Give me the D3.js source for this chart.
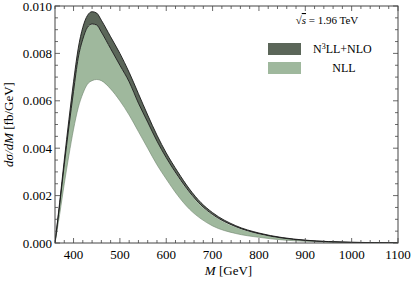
<!DOCTYPE html>
<html>
<head>
<meta charset="utf-8">
<script src="https://cdn.jsdelivr.net/npm/d3@7"></script>
<style>
  body { margin: 0; background: #fff; }
</style>
</head>
<body>
<div id="chart"></div>
<script>
// invariant mass grid (GeV)
var mass = [360, 370, 380, 390, 400, 410, 420, 430, 440, 450, 460, 480, 500, 520, 540, 560, 580, 600,
            625, 650, 675, 700, 750, 800, 850, 900, 950, 1000, 1050, 1100];
// N3LL+NLO band
var n3llHigh = [0, 0.0017, 0.0035, 0.0052, 0.0068, 0.0082, 0.0091, 0.0096, 0.00976, 0.0097, 0.0094, 0.0087, 0.0080, 0.0072, 0.0063, 0.0054, 0.00455, 0.0038,
                0.0030, 0.00228, 0.0017, 0.00128, 0.00073, 0.00042, 0.00023, 0.00012, 0.00006, 0.00003, 0.000015, 0.000007];
var n3llLow  = [0, 0.0016, 0.0033, 0.0049, 0.0064, 0.0078, 0.0086, 0.0091, 0.00924, 0.0092, 0.0089, 0.0082, 0.0075, 0.0068, 0.0059, 0.0051, 0.0043, 0.0036,
                0.00283, 0.00215, 0.0016, 0.0012, 0.00069, 0.00039, 0.00021, 0.00011, 0.000055, 0.000027, 0.000013, 0.000006];
// NLL band
var nllHigh  = [0, 0.0016, 0.0033, 0.0049, 0.0064, 0.0078, 0.0086, 0.0091, 0.00922, 0.0092, 0.0089, 0.0082, 0.0075, 0.0068, 0.0059, 0.0051, 0.0043, 0.0036,
                0.0028, 0.00212, 0.00157, 0.00117, 0.00066, 0.00037, 0.0002, 0.0001, 0.00005, 0.000025, 0.000012, 0.000005];
var nllLow   = [0, 0.0012, 0.0025, 0.0037, 0.0048, 0.0057, 0.0063, 0.0067, 0.00685, 0.0069, 0.00685, 0.0065, 0.0060, 0.0054, 0.0047, 0.0040, 0.0033, 0.0027,
                0.0020, 0.00143, 0.00102, 0.00072, 0.0004, 0.00024, 0.00013, 0.00007, 0.000035, 0.000015, 0.000006, 0.000002];

var xTicks = [400, 500, 600, 700, 800, 900, 1000, 1100];
var yTicks = [0, 0.002, 0.004, 0.006, 0.008, 0.010];
var legendLabels = ["N3LL+NLO", "NLL"];

var margin = {top: 6, right: 15, bottom: 38, left: 55},
    W = 413, H = 281,
    width = W - margin.left - margin.right,
    height = H - margin.top - margin.bottom;

var colors = ["#5b6659", "#9fb89d"];
var serif = "'Liberation Serif', 'DejaVu Serif', serif";

var svg = d3.select("#chart").append("svg")
    .attr("width", W)
    .attr("height", H)
    .attr("font-family", serif);

var g = svg.append("g")
    .attr("transform", "translate(" + margin.left + "," + margin.top + ")");

var x = d3.scaleLinear().domain([360, 1100]).range([0, width]);
var y = d3.scaleLinear().domain([0, 0.010]).range([height, 0]);

var rows = mass.map(function(m, i) {
  return {m: m, h3: n3llHigh[i], l3: n3llLow[i], h1: nllHigh[i], l1: nllLow[i]};
});

var band = function(lo, hi) {
  return d3.area()
    .x(function(d) { return x(d.m); })
    .y0(function(d) { return y(d[lo]); })
    .y1(function(d) { return y(d[hi]); })
    .curve(d3.curveMonotoneX);
};
var edge = function(k) {
  return d3.line()
    .x(function(d) { return x(d.m); })
    .y(function(d) { return y(d[k]); })
    .curve(d3.curveMonotoneX);
};

g.append("clipPath").attr("id", "clip")
  .append("rect").attr("width", width).attr("height", height);

var plot = g.append("g").attr("clip-path", "url(#clip)");

// NLL band
plot.append("path").datum(rows)
  .attr("d", band("l1", "h1"))
  .attr("fill", colors[1]);
plot.append("path").datum(rows)
  .attr("d", edge("l1"))
  .attr("fill", "none").attr("stroke", "#6f846d").attr("stroke-width", 0.6);

// N3LL+NLO band
plot.append("path").datum(rows)
  .attr("d", band("l3", "h3"))
  .attr("fill", colors[0]);
["l3", "h3"].forEach(function(k) {
  plot.append("path").datum(rows)
    .attr("d", edge(k))
    .attr("fill", "none").attr("stroke", "#1a1a1a").attr("stroke-width", 0.9);
});

// frame ticks (pointing inward, mirrored on top/right)
var xMinor = d3.range(360, 1101, 20);
var yMinor = d3.range(0, 0.01001, 0.0005);

var ticks = g.append("g").attr("stroke", "#444").attr("stroke-width", 0.8);
xMinor.forEach(function(v) {
  var major = Math.abs(v % 100) < 1e-6;
  var len = major ? 5 : 3;
  ticks.append("line").attr("x1", x(v)).attr("x2", x(v)).attr("y1", height).attr("y2", height - len);
  ticks.append("line").attr("x1", x(v)).attr("x2", x(v)).attr("y1", 0).attr("y2", len);
});
yMinor.forEach(function(v) {
  var major = Math.abs(Math.round(v / 0.002) * 0.002 - v) < 1e-9;
  var len = major ? 5 : 3;
  ticks.append("line").attr("x1", 0).attr("x2", len).attr("y1", y(v)).attr("y2", y(v));
  ticks.append("line").attr("x1", width).attr("x2", width - len).attr("y1", y(v)).attr("y2", y(v));
});

g.append("rect")
  .attr("width", width).attr("height", height)
  .attr("fill", "none").attr("stroke", "#444").attr("stroke-width", 1);

// tick labels
g.selectAll(".xlab").data(xTicks).enter().append("text")
  .attr("x", function(d) { return x(d); })
  .attr("y", height + 16)
  .attr("text-anchor", "middle")
  .style("font-size", "13px")
  .text(function(d) { return d; });

g.selectAll(".ylab").data(yTicks).enter().append("text")
  .attr("x", -3)
  .attr("y", function(d) { return y(d); })
  .attr("dy", "0.35em")
  .attr("text-anchor", "end")
  .style("font-size", "13px")
  .text(function(d) { return d3.format(".3f")(d); });

// axis titles
var xt = svg.append("text")
  .attr("x", margin.left + width / 2 + 2)
  .attr("y", H - 6)
  .attr("text-anchor", "middle")
  .style("font-size", "13px");
xt.append("tspan").style("font-style", "italic").text("M");
xt.append("tspan").text(" [GeV]");

var yt = svg.append("text")
  .attr("transform", "translate(13," + (margin.top + height / 2) + ") rotate(-90)")
  .attr("text-anchor", "middle")
  .style("font-size", "13px");
yt.append("tspan").style("font-style", "italic").text("d\u03c3/dM");
yt.append("tspan").text(" [fb/GeV]");

// legend
var sq = svg.append("text")
  .attr("x", 327).attr("y", 24)
  .attr("text-anchor", "middle")
  .style("font-size", "11px");
sq.append("tspan").text("\u221A");
sq.append("tspan").style("font-style", "italic").style("text-decoration", "overline").text("s");
sq.append("tspan").text("  = 1.96 TeV");

var legend = svg.selectAll(".legend")
  .data(legendLabels)
  .enter().append("g")
  .attr("class", "legend")
  .attr("transform", function(d, i) { return "translate(268," + (43 + i * 19) + ")"; });

legend.append("rect")
  .attr("width", 33).attr("height", 12)
  .style("fill", function(d, i) { return colors[i]; });

legend.append("text")
  .attr("x", function(d, i) { return i === 0 ? 45 : 76; })
  .attr("y", 10)
  .attr("text-anchor", function(d, i) { return i === 0 ? "start" : "middle"; })
  .style("font-size", "12px")
  .each(function(d, i) {
    var t = d3.select(this);
    if (i === 0) {
      t.append("tspan").text("N");
      t.append("tspan").attr("dy", -4).style("font-size", "8px").text("3");
      t.append("tspan").attr("dy", 4).text("LL+NLO");
    } else {
      t.text(d);
    }
  });
</script>
</body>
</html>
